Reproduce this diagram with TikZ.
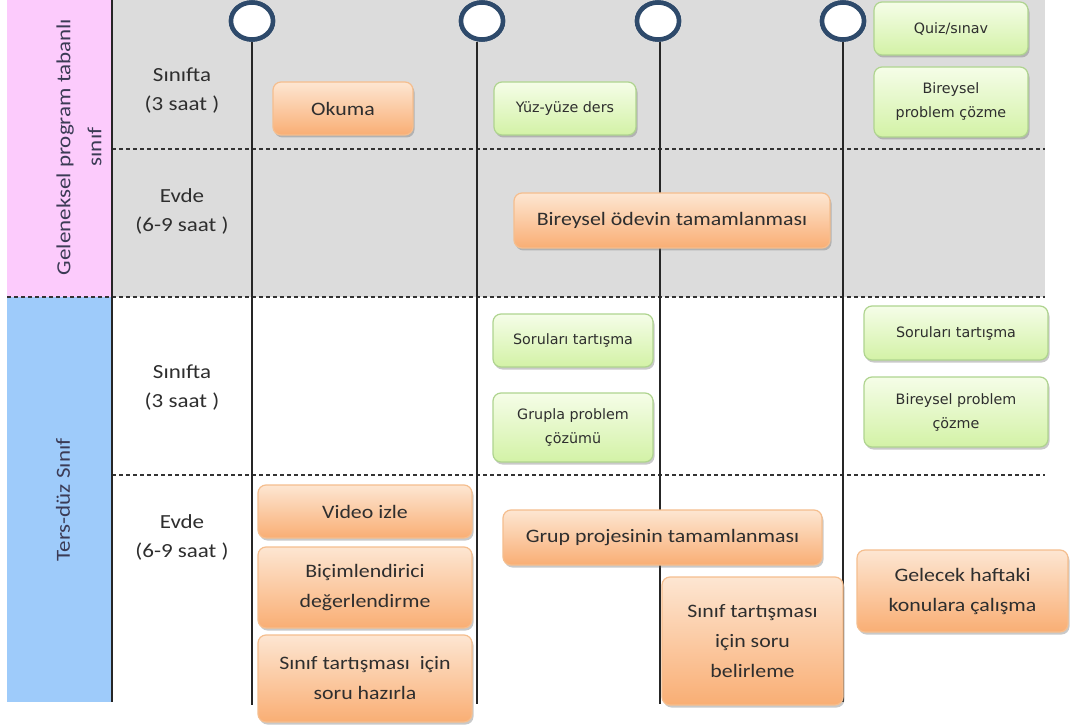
\documentclass[tikz,border=0pt]{standalone}
\usepackage{fontspec}
\setmainfont{Carlito}
\newfontfamily\calf[FakeStretch=1.15]{Carlito}
\newfontfamily\verf{DejaVu Sans}
\usetikzlibrary{shadows,shapes.geometric}
\definecolor{graybg}{HTML}{DCDCDC}
\definecolor{pinkc}{HTML}{FCCBFC}
\definecolor{bluec}{HTML}{9ECBFA}
\definecolor{orT}{HTML}{FDE6D2}
\definecolor{orB}{HTML}{F9AE74}
\definecolor{orD}{HTML}{F5BE8E}
\definecolor{grT}{HTML}{F5FDE8}
\definecolor{grB}{HTML}{D3F2A6}
\definecolor{grD}{HTML}{AFD48F}
\definecolor{navy}{HTML}{2E4A6B}
\definecolor{txt}{HTML}{2E2E2E}
\definecolor{lbl}{HTML}{3B3B55}
\tikzset{
  obox/.style={draw=orD, line width=1.2pt, rounded corners=8pt, top color=orT, bottom color=orB,
    drop shadow={shadow xshift=1.5pt, shadow yshift=-2.5pt, opacity=.35, fill=black!60},
    text=txt, align=center, inner sep=2pt, font={\calf\fontsize{19}{30}\selectfont}},
  gbox/.style={draw=grD, line width=1.2pt, rounded corners=8pt, top color=grT, bottom color=grB,
    drop shadow={shadow xshift=1.5pt, shadow yshift=-2.5pt, opacity=.35, fill=black!60},
    text=txt, align=center, inner sep=2pt, font={\verf\fontsize{14.3}{24}\selectfont}},
  hdr/.style={text=txt, align=center, font={\calf\fontsize{20}{29}\selectfont}},
  vlbl/.style={text=lbl, align=center, rotate=90, font={\calf\fontsize{20}{31}\selectfont}},
  tcirc/.style={ellipse, draw=navy, line width=4.5pt, fill=white, minimum width=42pt, minimum height=37pt, inner sep=0pt},
  tline/.style={draw=black!85, line width=1.5pt},
  gridline/.style={draw=black!80, line width=1.1pt, dash pattern=on 4pt off 3pt},
  edge/.style={draw=black!85, line width=1.8pt}
}
\begin{document}
\begin{tikzpicture}[x=1pt,y=-1pt]
\useasboundingbox (0,0) rectangle (1070,727);
\fill[white] (0,0) rectangle (1070,727);
% backgrounds
\fill[graybg] (112,0) rectangle (1045,297);
\fill[pinkc] (7,0) rectangle (112,297);
\fill[bluec] (7,297) rectangle (112,702);
% grid lines
\draw[gridline] (112,149) -- (1045,149);
\draw[gridline] (7,297) -- (1045,297);
\draw[gridline] (112,475) -- (1045,475);
\draw[edge] (112,0) -- (112,702);
% row labels
\node[vlbl] (lab1) at (79,147) {Geleneksel program tabanlı\\sınıf};
\node[vlbl] (lab2) at (63,500) {Ters-düz Sınıf};
\node[hdr] (h1) at (182,91) {Sınıfta\\(3 saat )};
\node[hdr] (h2) at (182,211) {Evde\\(6-9 saat )};
\node[hdr] (h3) at (182,388) {Sınıfta\\(3 saat )};
\node[hdr] (h4) at (182,537) {Evde\\(6-9 saat )};
% timeline
\coordinate (e1) at (252,705);
\coordinate (e2) at (477,704);
\coordinate (e3) at (660,704);
\coordinate (e4) at (843,702);
\node[tcirc] (c1) at (252,21) {};
\node[tcirc] (c2) at (482,21) {};
\node[tcirc] (c3) at (658,21) {};
\node[tcirc] (c4) at (843,21) {};
\draw[tline] (c1.south) -- (e1);
\draw[tline] (e2 |- c2.south) -- (e2);
\draw[tline] (e3 |- c3.south) -- (e3);
\draw[tline] (c4.south) -- (e4);
\node[tcirc] at (c1) {};
\node[tcirc] at (c2) {};
\node[tcirc] at (c3) {};
\node[tcirc] at (c4) {};
% boxes top
\node[obox, minimum width=140pt, minimum height=53pt] (okuma) at (343,108.5) {Okuma};
\node[gbox, minimum width=142pt, minimum height=53pt] (yuz) at (565,108.5) {Yüz-yüze ders};
\node[obox, minimum width=316pt, minimum height=55pt] (odev) at (672,220.5) {Bireysel ödevin tamamlanması};
\node[gbox, minimum width=154pt, minimum height=53pt] (quiz) at (951,28.5) {Quiz/sınav};
\node[gbox, minimum width=154pt, minimum height=70pt] (bpc1) at (951,102) {Bireysel\\problem çözme};
% boxes bottom
\node[gbox, minimum width=160pt, minimum height=53pt] (st1) at (573,340.5) {Soruları tartışma};
\node[gbox, minimum width=160pt, minimum height=69pt] (grp) at (573,427.5) {Grupla problem\\çözümü};
\node[gbox, minimum width=184pt, minimum height=54pt] (st2) at (956,333) {Soruları tartışma};
\node[gbox, minimum width=184pt, minimum height=70pt] (bpc2) at (956,412) {Bireysel problem\\çözme};
\node[obox, minimum width=214pt, minimum height=53pt] (video) at (365,511.5) {Video izle};
\node[obox, minimum width=214pt, minimum height=81pt] (bicim) at (365,587.5) {Biçimlendirici\\değerlendirme};
\node[obox, minimum width=214pt, minimum height=87pt] (hazir) at (365,678.5) {Sınıf tartışması\ \ için\\soru hazırla};
\node[obox, minimum width=319pt, minimum height=55pt] (proje) at (662.5,537.5) {Grup projesinin tamamlanması};
\node[obox, minimum width=181pt, minimum height=128pt] (belir) at (752.5,641) {Sınıf tartışması\\için soru\\belirleme};
\node[obox, minimum width=211pt, minimum height=82pt] (gelecek) at (962.5,591) {Gelecek haftaki\\konulara çalışma};
\end{tikzpicture}
\end{document}
